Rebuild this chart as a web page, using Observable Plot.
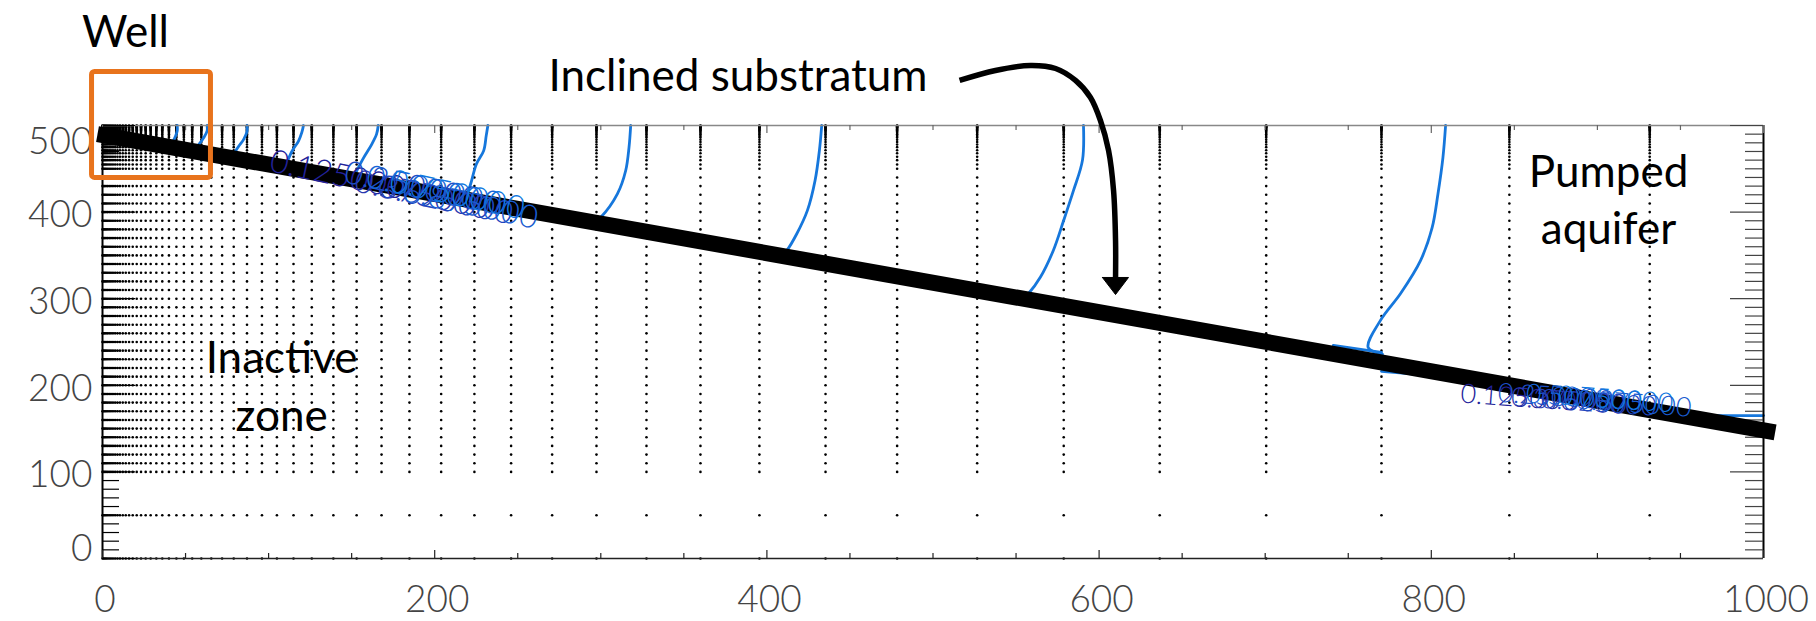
<!DOCTYPE html>
<html>
<head>
<meta charset="utf-8">
<script src="https://cdn.jsdelivr.net/npm/d3@7"></script>
<script src="https://cdn.jsdelivr.net/npm/@observablehq/plot@0.6"></script>
<style>
  html, body { margin: 0; padding: 0; background: #fff; }
  g[aria-label="ticklabel"] text { letter-spacing: 7px; }
  g[aria-label="contourlabel"] text { letter-spacing: 1px; }
</style>
</head>
<body>
<div id="chart"></div>
<script>
// ---- mesh ----
const meshCols = [0, 0.6, 1.3, 2.1, 3.0, 4.0, 5.1, 6.3, 7.6, 9.0, 10.5, 12.2, 14.0, 16.0, 18.2, 20.6,
  23.2, 26.0, 29.0, 32.4, 36.0, 40.0, 44.5, 49.0, 54.0, 59.5, 65.5, 72, 79, 87, 96, 105, 115, 126,
  139, 153, 168, 184.8, 203.9, 223.9, 246, 270.7, 297.4, 327.5, 360, 395.5, 435.3, 478.4, 526.6,
  578.7, 636.5, 700.6, 770, 847, 931.5];
const meshRows = [0, 50, 100, 110, 120, 130, 140, 150, 160, 170, 180, 190, 200, 210, 220, 230, 240,
  250, 260, 270, 280, 290, 300, 310, 320, 330, 340, 350, 360, 370, 380, 390, 400, 410, 420, 430, 440,
  450, 455, 460, 464, 468, 471.5, 475, 478, 481, 483.5, 486, 488, 490, 491.7, 493.2, 494.5, 495.6,
  496.6, 497.4, 498.1, 498.7, 499.2, 499.6, 500];

// ---- axis ticks ----
const xMajorTicks = [0, 200, 400, 600, 800, 1000];
const xMinorTicks = [50, 100, 150, 250, 300, 350, 450, 500, 550, 650, 700, 750, 850, 900, 950];
const yMajorTicks = [0, 100, 200, 300, 400, 500];
const yMinorTicks = [10, 20, 30, 40, 50, 60, 70, 80, 90, 110, 120, 130, 140, 150, 160, 170, 180, 190,
  210, 220, 230, 240, 250, 260, 270, 280, 290, 310, 320, 330, 340, 350, 360, 370, 380, 390,
  410, 420, 430, 440, 450, 460, 470, 480, 490];
const yMidLabels = [100, 200, 300, 400];
const yTopLabel = [500];
const yBottomLabel = [0];

// ---- contour lines (blue) ----
const contours = [
  [[45, 500], [45, 494], [44, 488], [42, 480]],
  [[63, 500], [63, 494], [61, 486], [58, 478], [55, 471]],
  [[87, 500], [87, 493], [85, 484], [82, 476], [78, 464]],
  [[121, 500], [120, 492], [118, 482], [114, 470], [110, 452]],
  [[166, 500], [165, 490], [162, 478], [157, 462], [150, 436]],
  [[232, 500], [231, 488], [229.5, 471], [225, 455], [219.7, 423], [214, 413]],
  [[318, 500], [317, 475], [315, 448], [310, 421], [300, 394], [296, 388]],
  [[433, 500], [431.6, 471], [429, 436.5], [424.4, 402], [418, 375], [412, 355.7], [409, 350]],
  [[590.6, 500], [590, 460], [584.6, 425], [578.6, 390], [572.5, 356], [564.7, 325], [557.5, 306], [554, 300]],
  [[808.6, 500], [807, 463], [804, 421], [800.5, 382], [793.5, 344], [781.5, 306], [769.4, 275], [762, 243.6], [770.6, 236]],
  [[741, 246], [770, 238]],
  [[770, 216], [790, 213]],
  [[930, 165], [1000, 165]]
];

// ---- contour labels ----
const leftLabelText = ["0.125000", "0.250000", "0.375000", "0.500000", "0.625000", "0.750000", "0.875000"];
const leftLabelX = [101, 146, 152, 159, 166, 173, 181];
const leftLabelY = [459, 446, 436, 441, 430, 436, 425];
const rightLabelText = ["0.125000", "0.250000", "0.375000", "0.500000", "0.625000", "0.750000", "0.875000"];
const rightLabelX = [817.6, 840, 848, 857, 866, 876, 887];
const rightLabelY = [190, 191, 186, 190, 184, 188, 183];
const labelColors = ["#22229a", "#1d4fc6", "#2a38b0", "#1566d8", "#1f47c0", "#0f78e0", "#1a5cd0"];

// ---- inclined substratum ----
const substratumX = [-3, 1007];
const substratumY = [490, 145.6];

// ---- annotations ----
const arrowX = [516.0, 537.6, 558.7, 573.8, 585.8, 594.8, 600.8, 605.7, 608.7, 609.9, 609.9];
const arrowY = [552.0, 563.5, 569.3, 565.8, 552.0, 532.3, 505.8, 471.1, 424.9, 367.2, 323.3];
const headX = [602.0, 617.7, 609.9, 602.0];
const headY = [324.5, 324.5, 304.8, 324.5];
const wellBox = [{x1: -6.3, x2: 65.3, y1: 439.4, y2: 561.8}];
const centerNotes = ["Well", "Inactive\nzone", "Pumped\naquifer"];
const centerNotesX = [13.8, 107.8, 906.7];
const centerNotesY = [590.1, 147.8, 362.6];
const startNotes = ["Inclined substratum"];
const startNotesX = [268.5];
const startNotesY = [540.4];

// ---- tables built from the arrays ----
const meshNodes = meshRows.flatMap(y => meshCols.map(x => ({x, y})));
const contourPts = contours.flatMap((pts, i) => pts.map(([x, y]) => ({x, y, id: i})));
const leftLabels = leftLabelText.map((t, i) => ({t, x: leftLabelX[i], y: leftLabelY[i], c: labelColors[i]}));
const rightLabels = rightLabelText.map((t, i) => ({t, x: rightLabelX[i], y: rightLabelY[i], c: labelColors[i]}));
const substratum = substratumX.map((x, i) => ({x, y: substratumY[i]}));
const arrow = arrowX.map((x, i) => ({x, y: arrowY[i]}));
const head = headX.map((x, i) => ({x, y: headY[i]}));
const cNotes = centerNotes.map((t, i) => ({t, x: centerNotesX[i], y: centerNotesY[i]}));
const sNotes = startNotes.map((t, i) => ({t, x: startNotesX[i], y: startNotesY[i]}));

const FW = 1661, FH = 433;   // frame width/height in px (for tick insets)
const tickFont = {fontFamily: "Lato", fontWeight: 300, fontSize: 37, fill: "#444", ariaLabel: "ticklabel"};
const noteFont = {fontFamily: "Lato", fontSize: 44, fill: "#000", lineHeight: 1.31, lineAnchor: "bottom"};

const chart = Plot.plot({
  width: 1816,
  height: 621,
  marginLeft: 102,
  marginRight: 53,
  marginTop: 125,
  marginBottom: 63,
  x: {domain: [0, 1000], axis: null},
  y: {domain: [0, 500], axis: null},
  style: {background: "#fff", overflow: "visible"},
  marks: [
    // mesh nodes
    Plot.dot(meshNodes, {x: "x", y: "y", r: 1.3, fill: "#000"}),
    // contours
    Plot.line(contourPts, {x: "x", y: "y", z: "id", stroke: "#1677dc", strokeWidth: 2.8, curve: "catmull-rom"}),
    // frame
    Plot.ruleY([500], {stroke: "#888", strokeWidth: 1.6}),
    Plot.ruleY([0], {stroke: "#222", strokeWidth: 1.6}),
    Plot.ruleX([0], {stroke: "#000", strokeWidth: 2}),
    Plot.ruleX([1000], {stroke: "#000", strokeWidth: 2}),
    // left ticks
    Plot.tickY(yMinorTicks, {y: d => d, stroke: "#000", strokeWidth: 1.2, insetRight: FW - 17}),
    Plot.tickY(yMajorTicks, {y: d => d, stroke: "#000", strokeWidth: 1.2, insetRight: FW - 33}),
    // right ticks
    Plot.tickY(yMinorTicks, {y: d => d, stroke: "#444", strokeWidth: 1.2, insetLeft: FW - 18}),
    Plot.tickY(yMajorTicks, {y: d => d, stroke: "#444", strokeWidth: 1.2, insetLeft: FW - 33}),
    // bottom ticks
    Plot.tickX(xMinorTicks, {x: d => d, stroke: "#222", strokeWidth: 1.2, insetTop: FH - 5}),
    Plot.tickX(xMajorTicks, {x: d => d, stroke: "#222", strokeWidth: 1.2, insetTop: FH - 8}),
    // top ticks
    Plot.tickX(xMinorTicks, {x: d => d, stroke: "#666", strokeWidth: 1.2, insetBottom: FH - 5}),
    Plot.tickX(xMajorTicks, {x: d => d, stroke: "#666", strokeWidth: 1.2, insetBottom: FH - 8}),
    // tick labels
    Plot.text(xMajorTicks, {x: d => d, y: d => 0, text: d => String(d), dx: 2.5, dy: 41.5, lineAnchor: "middle", ...tickFont}),
    Plot.text(yMidLabels, {x: d => 0, y: d => d, text: d => String(d), dx: -10, dy: 3.5, textAnchor: "end", lineAnchor: "middle", ...tickFont}),
    Plot.text(yTopLabel, {x: d => 0, y: d => d, text: d => String(d), dx: -10, dy: 16.5, textAnchor: "end", lineAnchor: "middle", ...tickFont}),
    Plot.text(yBottomLabel, {x: d => 0, y: d => d, text: d => String(d), dx: -10, dy: -9.5, textAnchor: "end", lineAnchor: "middle", ...tickFont}),
    // inclined substratum
    Plot.line(substratum, {x: "x", y: "y", stroke: "#000", strokeWidth: 16, strokeLinecap: "butt"}),
    // contour labels (drawn over the band, as in the figure)
    Plot.text(leftLabels, {x: "x", y: "y", text: "t", fill: "c", textAnchor: "start", rotate: 12,
      fontFamily: "Lato", fontWeight: 300, fontSize: 32, ariaLabel: "contourlabel"}),
    Plot.text(rightLabels, {x: "x", y: "y", text: "t", fill: "c", textAnchor: "start", rotate: 4,
      fontFamily: "Lato", fontWeight: 300, fontSize: 27, ariaLabel: "contourlabel"}),
    // well box
    Plot.rect(wellBox, {x1: "x1", x2: "x2", y1: "y1", y2: "y2", fill: "none", stroke: "#e8731c", strokeWidth: 5, rx: 3}),
    // arrow
    Plot.line(arrow, {x: "x", y: "y", stroke: "#000", strokeWidth: 5.5, curve: "catmull-rom", strokeLinecap: "butt"}),
    Plot.line(head, {x: "x", y: "y", fill: "#000", stroke: "#000", strokeWidth: 1}),
    // annotation text
    Plot.text(cNotes, {x: "x", y: "y", text: "t", textAnchor: "middle", ...noteFont}),
    Plot.text(sNotes, {x: "x", y: "y", text: "t", textAnchor: "start", ...noteFont})
  ]
});
document.getElementById("chart").appendChild(chart);
</script>
</body>
</html>
